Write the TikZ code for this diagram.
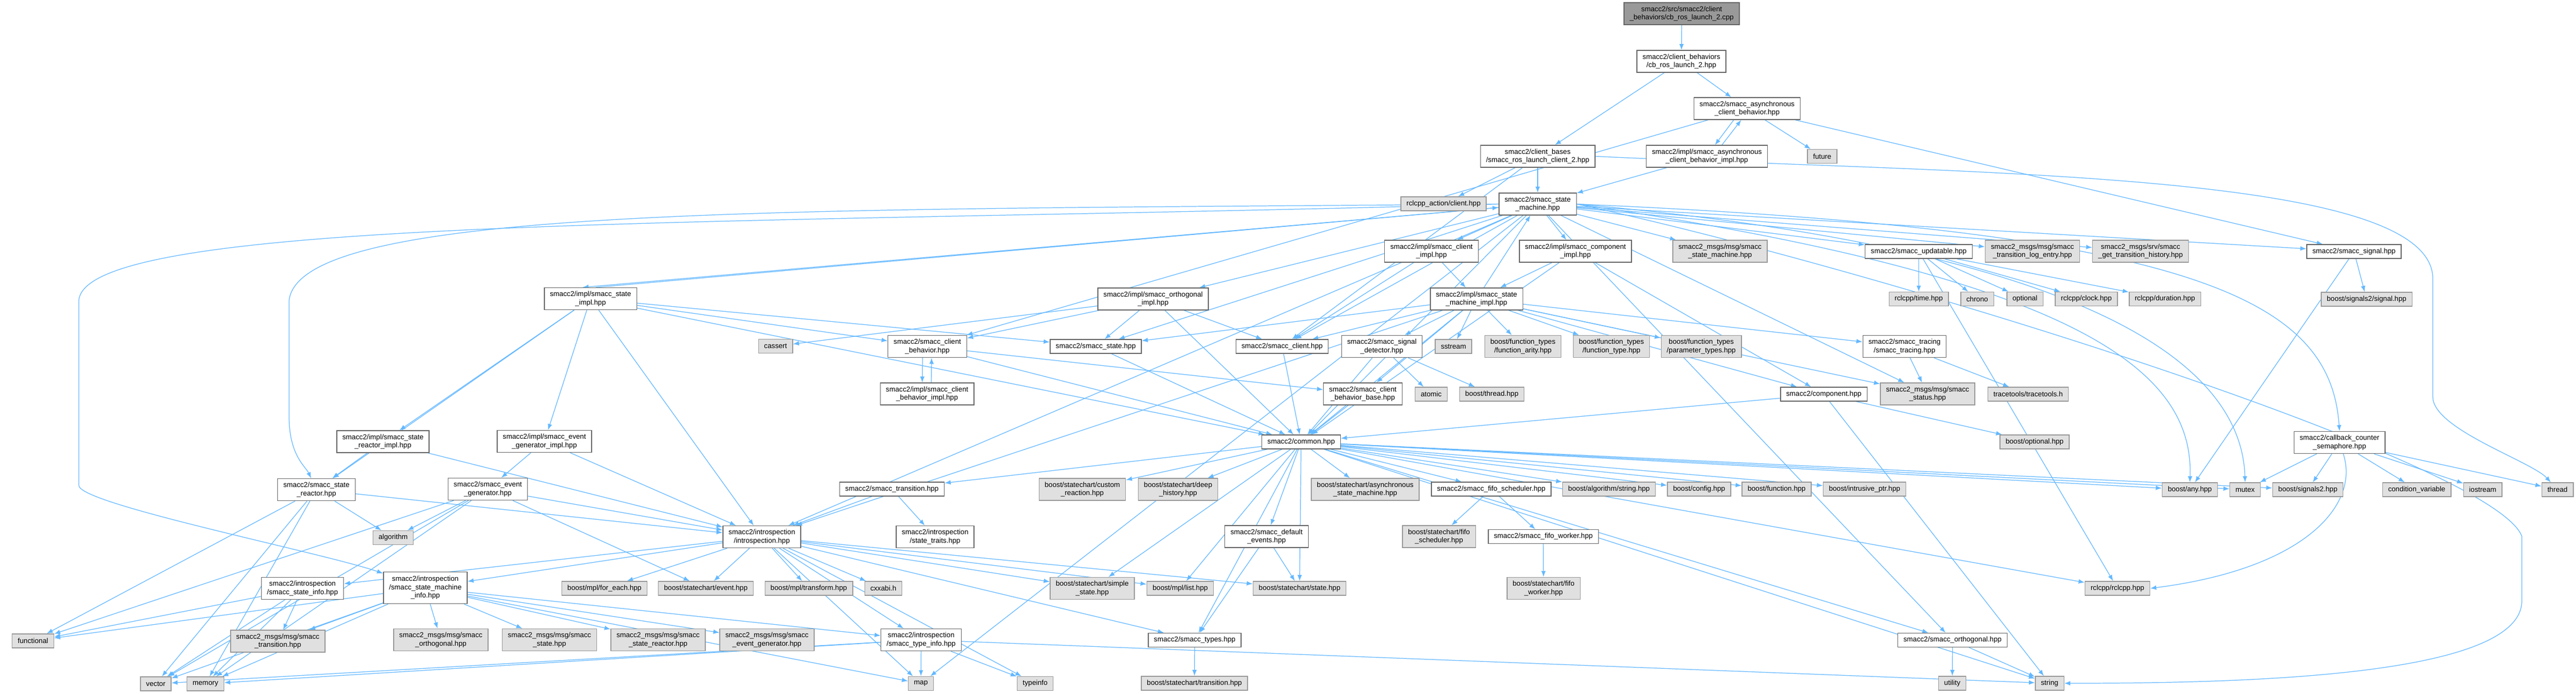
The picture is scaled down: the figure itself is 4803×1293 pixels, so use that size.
\documentclass[tikz,border=0pt]{standalone}
\usepackage{fontspec}
\setmainfont{Liberation Sans}
\usepackage{xcolor}
\usepackage{tikz}
\usetikzlibrary{arrows.meta,backgrounds}

\definecolor{edgeblue}{HTML}{63B8FF}
\definecolor{sysfill}{HTML}{E0E0E0}
\definecolor{sysline}{HTML}{999999}
\definecolor{fileline}{HTML}{666666}
\definecolor{rootfill}{HTML}{999999}

\begin{document}
\begin{tikzpicture}[x=0.01cm, y=-0.01cm,
  file/.style={draw=fileline, fill=white, line width=0.4pt, font=\fontsize{3.76pt}{4.4pt}\selectfont, align=center, inner xsep=0.105cm, inner ysep=0.02cm, minimum height=0.26cm},
  sys/.style={file, draw=sysline, fill=sysfill},
  two/.style={minimum height=0.41cm},
  three/.style={minimum height=0.59cm},
  dep/.style={draw=edgeblue, line width=0.35pt, -{Latex[length=3.2pt,width=2.4pt]}},
  every edge/.style={dep}]
\useasboundingbox (0,0) rectangle (4803,1293);

% top of the graph
\node[file, two, fill=rootfill] (root) at (3135.5,25.5) {smacc2/src/smacc2/client\\\_behaviors/cb\_ros\_launch\_2.cpp};
\node[file, two] (cbhpp) at (3135,114.5) {smacc2/client\_behaviors\\/cb\_ros\_launch\_2.hpp};
\node[file, two] (asyncb) at (3257.5,202.5) {smacc2/smacc\_asynchronous\\\_client\_behavior.hpp};
\node[file, two] (asyncimpl) at (3182.5,291.5) {smacc2/impl/smacc\_asynchronous\\\_client\_behavior\_impl.hpp};
\node[sys] (future) at (3397.5,291.5) {future};
\node[file, two] (rlclient) at (2867,291.5) {smacc2/client\_bases\\/smacc\_ros\_launch\_client\_2.hpp};
\node[sys] (rclaction) at (2691.5,380) {rclcpp\_action/client.hpp};
\node[file, two] (sm) at (2867,380.5) {smacc2/smacc\_state\\\_machine.hpp};

% rank below the state machine
\node[file, two] (clientimpl) at (2669,468.5) {smacc2/impl/smacc\_client\\\_impl.hpp};
\node[file, two] (compimpl) at (2937.5,468.5) {smacc2/impl/smacc\_component\\\_impl.hpp};
\node[sys, two] (msgsm) at (3207,468.5) {smacc2\_msgs/msg/smacc\\\_state\_machine.hpp};
\node[file] (updatable) at (3577.5,469) {smacc2/smacc\_updatable.hpp};
\node[sys, two] (msgtle) at (3789.5,468.5) {smacc2\_msgs/msg/smacc\\\_transition\_log\_entry.hpp};
\node[sys, two] (srvgth) at (3991,468.5) {smacc2\_msgs/srv/smacc\\\_get\_transition\_history.hpp};
\node[file] (signal) at (4389,469) {smacc2/smacc\_signal.hpp};

\node[file, two] (stateimpl) at (1101,557) {smacc2/impl/smacc\_state\\\_impl.hpp};
\node[file, two] (orthimpl) at (2150,557.5) {smacc2/impl/smacc\_orthogonal\\\_impl.hpp};
\node[file, two] (smimpl) at (2753,557.5) {smacc2/impl/smacc\_state\\\_machine\_impl.hpp};
\node[sys] (rcltime) at (3577.5,557.5) {rclcpp/time.hpp};
\node[sys] (chrono) at (3686.5,557.5) {chrono};
\node[sys] (optional) at (3775.5,557.5) {optional};
\node[sys] (rclclock) at (3890,557.5) {rclcpp/clock.hpp};
\node[sys] (rclduration) at (4036.5,557.5) {rclcpp/duration.hpp};
\node[sys] (sig2signal) at (4412.5,558) {boost/signals2/signal.hpp};

\node[sys] (cassert) at (1446,645.5) {cassert};
\node[file, two] (clientbeh) at (1729,646) {smacc2/smacc\_client\\\_behavior.hpp};
\node[file] (state) at (2043,646) {smacc2/smacc\_state.hpp};
\node[file] (client) at (2390.5,646) {smacc2/smacc\_client.hpp};
\node[file, two] (sigdet) at (2576.5,646) {smacc2/smacc\_signal\\\_detector.hpp};
\node[sys] (sstream) at (2710,646) {sstream};
\node[sys, two] (ftarity) at (2839.5,646) {boost/function\_types\\/function\_arity.hpp};
\node[sys, two] (fttype) at (3004.5,646) {boost/function\_types\\/function\_type.hpp};
\node[sys, two] (ftparam) at (3172,646) {boost/function\_types\\/parameter\_types.hpp};
\node[file, two] (tracing) at (3551,646) {smacc2/smacc\_tracing\\/smacc\_tracing.hpp};

\node[file, two] (cbimpl) at (1728.5,734.5) {smacc2/impl/smacc\_client\\\_behavior\_impl.hpp};
\node[file, two] (cbbase) at (2541,734.5) {smacc2/smacc\_client\\\_behavior\_base.hpp};
\node[sys] (atomic) at (2668.5,735) {atomic};
\node[sys] (bthread) at (2781.5,735) {boost/thread.hpp};
\node[file] (component) at (3400.5,735) {smacc2/component.hpp};
\node[sys, two] (msgstatus) at (3594,734.5) {smacc2\_msgs/msg/smacc\\\_status.hpp};
\node[sys] (tracetools) at (3781.5,735) {tracetools/tracetools.h};

\node[file, two] (srimpl) at (714,823.5) {smacc2/impl/smacc\_state\\\_reactor\_impl.hpp};
\node[file, two] (egimpl) at (1015,823) {smacc2/impl/smacc\_event\\\_generator\_impl.hpp};
\node[file] (common) at (2426,824) {smacc2/common.hpp};
\node[sys] (boptional) at (3793.5,824) {boost/optional.hpp};
\node[file, two] (ccsem) at (4362,825) {smacc2/callback\_counter\\\_semaphore.hpp};

% rank under common.hpp
\node[file, two] (sreactor) at (590,913) {smacc2/smacc\_state\\\_reactor.hpp};
\node[file, two] (evgen) at (909.5,912) {smacc2/smacc\_event\\\_generator.hpp};
\node[file] (transition) at (1663,912) {smacc2/smacc\_transition.hpp};
\node[sys, two] (customr) at (2018,912.5) {boost/statechart/custom\\\_reaction.hpp};
\node[sys, two] (deephist) at (2196.5,912.5) {boost/statechart/deep\\\_history.hpp};
\node[sys, two] (asyncsm) at (2545.5,912.5) {boost/statechart/asynchronous\\\_state\_machine.hpp};
\node[file] (fifosched) at (2780.5,912) {smacc2/smacc\_fifo\_scheduler.hpp};
\node[sys] (balgstr) at (3000,912) {boost/algorithm/string.hpp};
\node[sys] (bconfig) at (3168,912) {boost/config.hpp};
\node[sys] (bfunction) at (3312.5,912) {boost/function.hpp};
\node[sys] (bintrusive) at (3476.5,912) {boost/intrusive\_ptr.hpp};
\node[sys] (bany) at (4083,913) {boost/any.hpp};
\node[sys] (mutex) at (4186,913) {mutex};
\node[sys] (bsig2) at (4303,913) {boost/signals2.hpp};
\node[sys] (condvar) at (4506,913) {condition\_variable};
\node[sys] (iostream) at (4629,913) {iostream};
\node[sys] (thread) at (4768.5,913) {thread};

\node[sys] (algorithm) at (733,1002.5) {algorithm};
\node[file, two] (introsp) at (1420.5,1001) {smacc2/introspection\\/introspection.hpp};
\node[file, two] (strait) at (1743.5,1001) {smacc2/introspection\\/state\_traits.hpp};
\node[file, two] (defevents) at (2361.5,1000.5) {smacc2/smacc\_default\\\_events.hpp};
\node[sys, two] (bfifosched) at (2683,1000.5) {boost/statechart/fifo\\\_scheduler.hpp};
\node[file] (fifoworker) at (2877.5,1000.5) {smacc2/smacc\_fifo\_worker.hpp};

\node[file, two] (stateinfo) at (564,1097) {smacc2/introspection\\/smacc\_state\_info.hpp};
\node[file, three] (sminfo) at (793,1096) {smacc2/introspection\\/smacc\_state\_machine\\\_info.hpp};
\node[sys] (mplforeach) at (1127,1097) {boost/mpl/for\_each.hpp};
\node[sys] (scevent) at (1316,1097) {boost/statechart/event.hpp};
\node[sys] (mpltransform) at (1508,1097) {boost/mpl/transform.hpp};
\node[sys] (cxxabi) at (1647,1097) {cxxabi.h};
\node[sys, two] (simplestate) at (2036.5,1097) {boost/statechart/simple\\\_state.hpp};
\node[sys] (mpllist) at (2200.5,1097) {boost/mpl/list.hpp};
\node[sys] (scstate) at (2423,1097) {boost/statechart/state.hpp};
\node[sys, two] (bfifoworker) at (2878,1097) {boost/statechart/fifo\\\_worker.hpp};
\node[sys] (rclcpp) at (3948,1097) {rclcpp/rclcpp.hpp};

\node[sys] (functional) at (61.5,1195) {functional};
\node[sys, two] (msgtrans) at (518,1195.5) {smacc2\_msgs/msg/smacc\\\_transition.hpp};
\node[sys, two] (msgorth) at (822,1193) {smacc2\_msgs/msg/smacc\\\_orthogonal.hpp};
\node[sys, two] (msgstate) at (1024.5,1193) {smacc2\_msgs/msg/smacc\\\_state.hpp};
\node[sys, two] (msgsr) at (1227,1193) {smacc2\_msgs/msg/smacc\\\_state\_reactor.hpp};
\node[sys, two] (msgeg) at (1430,1193) {smacc2\_msgs/msg/smacc\\\_event\_generator.hpp};
\node[file, two] (typeinfo) at (1717.5,1193) {smacc2/introspection\\/smacc\_type\_info.hpp};
\node[file] (types) at (2227.5,1193.5) {smacc2/smacc\_types.hpp};
\node[file] (orth) at (3640.5,1193.5) {smacc2/smacc\_orthogonal.hpp};

% bottom row
\node[sys] (vector) at (290.5,1275) {vector};
\node[sys] (memory) at (383,1275) {memory};
\node[sys] (map) at (1717,1274.5) {map};
\node[sys] (ctypeinfo) at (1930,1274.5) {typeinfo};
\node[sys] (sctransition) at (2227,1274) {boost/statechart/transition.hpp};
\node[sys] (utility) at (3640,1274) {utility};
\node[sys] (string) at (3821.5,1274) {string};

\begin{pgfonlayer}{background}
\fill[white] (0,0) rectangle (4803,1293);

\path (root) edge (cbhpp);
\path (cbhpp) edge (rlclient) edge (asyncb);
\path ([xshift=-0.25cm]asyncb.south) edge ([xshift=0.15cm]asyncimpl.north);
\path ([xshift=0.28cm]asyncimpl.north) edge ([xshift=-0.11cm]asyncb.south);
\path (asyncb) edge (future) edge (signal) edge (clientbeh);
\path (asyncimpl) edge (sm);
\path (rlclient) edge (rclaction) edge (sm) edge (client);
\draw[dep] (rlclient.east) .. controls (3700,325) and (4536,320) .. (4536,520) -- (4536,740) .. controls (4536,800) and (4720,860) .. (thread);

% includes of the state machine
\path (sm) edge (clientimpl) edge (compimpl) edge (msgsm) edge (updatable) edge (msgtle) edge (srvgth) edge (signal) edge (msgstatus) edge (orthimpl) edge (state) edge (client) edge (common) edge (introsp) edge (map) edge (orth);
\path (sm) edge ([xshift=-0.15cm]stateimpl.north);
\path ([xshift=0.1cm]stateimpl.north) edge (sm);
\draw[dep] (sm.west) .. controls (1400,420) and (160,400) .. (147,560) -- (147,905) .. controls (147,940) and (600,1030) .. (sminfo);
\draw[dep] (sm.west) .. controls (1500,392) and (560,380) .. (539,560) -- (539,780) .. controls (540,850) and (570,870) .. (sreactor);
\draw[dep] (sm.east) .. controls (4100,430) and (4345,560) .. (ccsem.north);
\draw[dep] (sm.east) .. controls (3900,520) and (4090,700) .. (bany.north);
\draw[dep] (sm.east) .. controls (3950,470) and (4180,700) .. (mutex.north);
\draw[dep] (sm.east) .. controls (3500,500) and (4650,860) .. (4702,1000) -- (4702,1120) .. controls (4702,1260) and (4200,1274) .. (string.east);

\path (smimpl) edge (sm) edge (client) edge (sigdet) edge (sstream) edge (ftarity) edge (fttype) edge (ftparam) edge (state) edge (common) edge (tracing) edge (msgstatus) edge (component) edge (cbbase) edge (introsp);
\path (clientimpl) edge (smimpl) edge (client);
\path (compimpl) edge (smimpl) edge (component) edge (common);
\path (updatable) edge (rcltime) edge (chrono) edge (optional) edge (rclclock) edge (rclduration) edge (rclcpp);
\path (signal) edge (sig2signal) edge (bany);
\path (ccsem) edge (mutex) edge (bsig2) edge (condvar) edge (iostream) edge (thread);
\draw[dep] (ccsem) .. controls (4400,940) and (4300,1060) .. (rclcpp.east);

\path (orthimpl) edge (state) edge (client) edge (common) edge (cassert) edge (clientbeh);
\path (stateimpl) edge (sreactor) edge (egimpl) edge (srimpl) edge (introsp) edge (clientbeh) edge (state) edge (common);
\path (srimpl) edge (sreactor) edge (introsp);
\path (egimpl) edge (evgen) edge (introsp);
\path (evgen) edge (introsp) edge (scevent) edge (algorithm) edge (functional) edge (vector) edge (memory);
\path (sreactor) edge (functional) edge (vector) edge (memory) edge (algorithm) edge (introsp);

\path ([xshift=-0.09cm]clientbeh.south) edge ([xshift=-0.09cm]cbimpl.north);
\path ([xshift=0.08cm]cbimpl.north) edge ([xshift=0.08cm]clientbeh.south);
\path (clientbeh) edge (cbbase) edge (common);
\path (cbbase) edge (common);
\path (client) edge (common);
\path (state) edge (common);
\path (sigdet) edge (atomic) edge (bthread) edge (common);
\path (transition) edge (introsp) edge (strait);

% common.hpp fans out
\path (common) edge (customr) edge (deephist) edge (asyncsm) edge (fifosched) edge (balgstr) edge (bconfig) edge (bfunction) edge (bintrusive) edge (bany) edge (bsig2) edge (mutex) edge (rclcpp) edge (defevents) edge (transition) edge (mpllist) edge (scstate) edge (types) edge (orth) edge (string) edge (simplestate);
\path (fifosched) edge (bfifosched) edge (fifoworker);
\path (fifoworker) edge (bfifoworker);
\path (defevents) edge (scstate) edge (types);
\path (types) edge (sctransition);

% introspection
\path (introsp) edge (mplforeach) edge (scevent) edge (mpltransform) edge (cxxabi) edge (simplestate) edge (sminfo) edge (stateinfo) edge (typeinfo) edge (map) edge (ctypeinfo) edge (scstate) edge (mpllist) edge (types);
\path (sminfo) edge (msgtrans) edge (msgorth) edge (msgstate) edge (msgsr) edge (msgeg) edge (typeinfo) edge (vector) edge (memory) edge (map) edge (functional);
\path (stateinfo) edge (functional) edge (vector) edge (memory) edge (msgtrans);
\path (typeinfo) edge (map) edge (ctypeinfo) edge (string) edge (vector) edge (memory);

\path (tracing) edge (tracetools) edge (msgstatus);
\path (component) edge (boptional) edge (common) edge (string);
\path (orth) edge (utility) edge (string);
\end{pgfonlayer}
\end{tikzpicture}
\end{document}
